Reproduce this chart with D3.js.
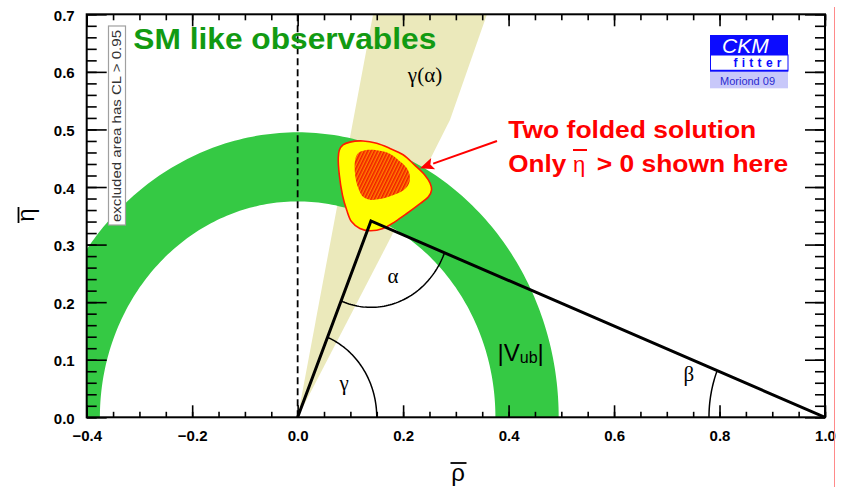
<!DOCTYPE html>
<html><head><meta charset="utf-8">
<script src="https://cdn.jsdelivr.net/npm/d3@7"></script>
<style>
html,body{margin:0;padding:0;background:#fff;}
svg{display:block;}
</style></head>
<body>
<svg id="chart" width="842" height="487"></svg>
<script>
// Unitarity triangle fit in the (rho-bar, eta-bar) plane

// ---- axis ticks ----
const xMajorTicks = [-0.4, -0.2, 0.0, 0.2, 0.4, 0.6, 0.8, 1.0];
const xTickLabels = ["\u22120.4", "\u22120.2", "0.0", "0.2", "0.4", "0.6", "0.8", "1.0"];
const yMajorTicks = [0.0, 0.1, 0.2, 0.3, 0.4, 0.5, 0.6, 0.7];
const yTickLabels = ["0.0", "0.1", "0.2", "0.3", "0.4", "0.5", "0.6", "0.7"];
const xMinorStep = 0.05;
const yMinorStep = 0.02;

// ---- constraints ----
// |Vub| ring: inner and outer radius around the origin
const vubRadii = [0.375, 0.495];
// gamma(alpha) band: left and right boundaries, from the origin upwards
const gammaAlphaLeft = [[0.0, 0.0], [0.143, 0.70]];
const gammaAlphaRight = [[0.0, 0.0], [0.177, 0.313], [0.289, 0.517], [0.359, 0.70]];

// ---- global fit ----
const triangleVertices = [[0.0, 0.0], [0.139, 0.341], [1.0, 0.0]];
const contourCL95 = [
  [0.079, 0.464], [0.086, 0.473], [0.099, 0.478], [0.124, 0.480], [0.150, 0.476],
  [0.175, 0.467], [0.200, 0.456], [0.222, 0.438], [0.241, 0.421], [0.251, 0.407],
  [0.254, 0.395], [0.248, 0.383], [0.229, 0.369], [0.207, 0.354], [0.185, 0.340],
  [0.162, 0.328], [0.137, 0.324], [0.118, 0.328], [0.102, 0.340], [0.093, 0.360],
  [0.085, 0.386], [0.079, 0.421], [0.077, 0.450]
];
const contourCL68 = [
  [0.109, 0.447], [0.115, 0.459], [0.128, 0.464], [0.150, 0.464], [0.172, 0.459],
  [0.191, 0.447], [0.207, 0.433], [0.213, 0.418], [0.210, 0.404], [0.197, 0.392],
  [0.178, 0.385], [0.156, 0.379], [0.137, 0.378], [0.124, 0.383], [0.115, 0.398],
  [0.109, 0.421]
];
// angle markers: radius of each arc around its vertex
const angleArcRadii = { gamma: 0.15, alpha: 0.15, beta: 0.22 };

// ---- layout ----
const frame = { left: 86.7, right: 825, top: 14.3, bottom: 417.3 };
const svg = d3.select("#chart");
const x = d3.scaleLinear().domain([-0.4, 1.0]).range([frame.left, frame.right]);
const y = d3.scaleLinear().domain([0.0, 0.7]).range([frame.bottom, frame.top]);

svg.append("rect").attr("width", 842).attr("height", 487).attr("fill", "#fff");

const defs = svg.append("defs");
defs.append("clipPath").attr("id", "plotClip")
  .append("rect")
  .attr("x", frame.left).attr("y", frame.top)
  .attr("width", frame.right - frame.left).attr("height", frame.bottom - frame.top);

const hatch = defs.append("pattern").attr("id", "hatch68")
  .attr("patternUnits", "userSpaceOnUse").attr("width", 3).attr("height", 6)
  .attr("patternTransform", "rotate(26)");
hatch.append("rect").attr("width", 3).attr("height", 6).attr("fill", "#ff8000");
hatch.append("line").attr("x1", 0.8).attr("x2", 0.8).attr("y1", 0).attr("y2", 6)
  .attr("stroke", "#f01800").attr("stroke-width", 1.5);

const plot = svg.append("g").attr("clip-path", "url(#plotClip)");
const line = d3.line().x(d => x(d[0])).y(d => y(d[1]));

// gamma(alpha) wedge
const wedge = gammaAlphaLeft.concat(gammaAlphaRight.slice().reverse());
plot.append("path").attr("d", line(wedge) + "Z").attr("fill", "#ebe9bb");

// |Vub| ring
function ringPoints(r0, r1) {
  const a = d3.range(0, 181).map(i => i * Math.PI / 180);
  const outer = a.map(t => [r1 * Math.cos(t), r1 * Math.sin(t)]);
  const inner = a.slice().reverse().map(t => [r0 * Math.cos(t), r0 * Math.sin(t)]);
  return outer.concat(inner);
}
plot.append("path").attr("d", line(ringPoints(vubRadii[0], vubRadii[1])) + "Z")
  .attr("fill", "#35c944");

// rho = 0 reference line
plot.append("line")
  .attr("x1", x(0)).attr("x2", x(0)).attr("y1", y(0)).attr("y2", y(0.7))
  .attr("stroke", "#000").attr("stroke-width", 1.8).attr("stroke-dasharray", "7,4");

// fit contours
const smooth = d3.line().x(d => x(d[0])).y(d => y(d[1])).curve(d3.curveCatmullRomClosed.alpha(0.5));
plot.append("path").attr("d", smooth(contourCL95))
  .attr("fill", "#ffff00").attr("stroke", "#ff1a00").attr("stroke-width", 1.6);
plot.append("path").attr("d", smooth(contourCL68))
  .attr("fill", "url(#hatch68)").attr("stroke", "none");

// unitarity triangle
const [A0, Apex, A1] = triangleVertices;
plot.append("path").attr("d", line(triangleVertices))
  .attr("fill", "none").attr("stroke", "#000").attr("stroke-width", 3)
  .attr("stroke-linejoin", "miter");

// angle arcs
function arc(center, r, t0, t1) {
  const n = 60;
  const pts = d3.range(n + 1).map(i => {
    const t = t0 + (t1 - t0) * i / n;
    return [center[0] + r * Math.cos(t), center[1] + r * Math.sin(t)];
  });
  return line(pts);
}
const angTo = (p, q) => Math.atan2(q[1] - p[1], q[0] - p[0]);
const arcStyle = sel => sel.attr("fill", "none").attr("stroke", "#000").attr("stroke-width", 1.5);
plot.append("path").attr("d", arc(A0, angleArcRadii.gamma, 0, angTo(A0, Apex))).call(arcStyle);
plot.append("path").attr("d", arc(Apex, angleArcRadii.alpha, angTo(Apex, A0), angTo(Apex, A1))).call(arcStyle);
plot.append("path").attr("d", arc(A1, angleArcRadii.beta, Math.PI, angTo(A1, Apex))).call(arcStyle);

// Greek labels
const greek = { "font-family": "'Liberation Serif', 'DejaVu Serif', serif", "font-size": "21px", fill: "#000" };
function label(txt, px, py, anchor) {
  const t = svg.append("text").attr("x", px).attr("y", py).attr("text-anchor", anchor || "middle").text(txt);
  Object.entries(greek).forEach(([k, v]) => t.attr(k, v));
  return t;
}
label("\u03b3", x(0.088), y(0.048));
label("\u03b1", x(0.181), y(0.233));
label("\u03b2", x(0.742), y(0.063));
label("\u03b3(\u03b1)", x(0.209), y(0.582), "start");

// |Vub| label
const vub = svg.append("text").attr("x", x(0.379)).attr("y", y(0.097))
  .attr("font-family", "'Liberation Sans', Arial, sans-serif").attr("font-size", "24px").attr("fill", "#000");
vub.append("tspan").text("|V");
vub.append("tspan").attr("font-size", "16px").attr("dy", 2).text("ub");
vub.append("tspan").attr("dy", -2).text("|");

// ---- axes ----
const axisFont = sel => sel.selectAll("text")
  .attr("font-family", "'Liberation Sans', Arial, sans-serif").attr("font-weight", "bold")
  .attr("font-size", "15px").attr("fill", "#000");
const axisStyle = sel => {
  sel.select(".domain").remove();
  sel.selectAll("line").attr("stroke", "#000").attr("stroke-width", 1.6);
};
const xMinor = d3.range(-0.4, 1.0001, xMinorStep).map(v => +v.toFixed(3));
const yMinor = d3.range(0, 0.7001, yMinorStep).map(v => +v.toFixed(3));
const xLabelOf = v => xTickLabels[xMajorTicks.findIndex(t => Math.abs(t - v) < 1e-9)];
const yLabelOf = v => yTickLabels[yMajorTicks.findIndex(t => Math.abs(t - v) < 1e-9)];

// bottom
svg.append("g").attr("transform", `translate(0,${frame.bottom})`)
  .call(d3.axisBottom(x).tickValues(xMinor).tickSize(-5.5).tickFormat("")).call(axisStyle);
svg.append("g").attr("transform", `translate(0,${frame.bottom})`)
  .call(d3.axisBottom(x).tickValues(xMajorTicks).tickSize(-12).tickPadding(13).tickFormat(xLabelOf))
  .call(axisStyle).call(axisFont);
// top
svg.append("g").attr("transform", `translate(0,${frame.top})`)
  .call(d3.axisTop(x).tickValues(xMinor).tickSize(-6).tickFormat("")).call(axisStyle);
svg.append("g").attr("transform", `translate(0,${frame.top})`)
  .call(d3.axisTop(x).tickValues(xMajorTicks).tickSize(-12).tickFormat("")).call(axisStyle);
// left
svg.append("g").attr("transform", `translate(${frame.left},0)`)
  .call(d3.axisLeft(y).tickValues(yMinor).tickSize(-10).tickFormat("")).call(axisStyle);
svg.append("g").attr("transform", `translate(${frame.left},0)`)
  .call(d3.axisLeft(y).tickValues(yMajorTicks).tickSize(-20).tickPadding(12).tickFormat(yLabelOf))
  .call(axisStyle).call(axisFont)
  .selectAll("text").attr("dy", "0.4em");
// right
svg.append("g").attr("transform", `translate(${frame.right},0)`)
  .call(d3.axisRight(y).tickValues(yMinor).tickSize(-10).tickFormat("")).call(axisStyle);
svg.append("g").attr("transform", `translate(${frame.right},0)`)
  .call(d3.axisRight(y).tickValues(yMajorTicks).tickSize(-20).tickFormat("")).call(axisStyle);

// frame
svg.append("rect")
  .attr("x", frame.left).attr("y", frame.top)
  .attr("width", frame.right - frame.left).attr("height", frame.bottom - frame.top)
  .attr("fill", "none").attr("stroke", "#000").attr("stroke-width", 2);

// axis titles with bars
const titleFont = "'Liberation Sans', Arial, sans-serif";
svg.append("text").attr("x", 458).attr("y", 481).attr("text-anchor", "middle")
  .attr("font-family", titleFont).attr("font-size", "24px").text("\u03c1");
svg.append("line").attr("x1", 450.5).attr("x2", 466.5).attr("y1", 463).attr("y2", 463)
  .attr("stroke", "#000").attr("stroke-width", 1.8);
svg.append("text").attr("transform", "translate(34,215) rotate(-90)").attr("text-anchor", "middle")
  .attr("font-family", titleFont).attr("font-size", "24px").text("\u03b7");
svg.append("line").attr("x1", 18.5).attr("x2", 18.5).attr("y1", 207).attr("y2", 223)
  .attr("stroke", "#000").attr("stroke-width", 1.8);

// excluded-area note
svg.append("rect").attr("x", 108.5).attr("y", 26).attr("width", 17).attr("height", 199)
  .attr("fill", "#fff").attr("stroke", "#a0a0a0").attr("stroke-width", 1.2);
svg.append("text").attr("transform", "translate(121,222) rotate(-90)")
  .attr("font-family", titleFont).attr("font-size", "13px").attr("fill", "#333")
  .attr("textLength", 192).attr("lengthAdjust", "spacingAndGlyphs")
  .text("excluded area has CL > 0.95");

// headline
svg.append("text").attr("x", 133.3).attr("y", 49.3)
  .attr("font-family", titleFont).attr("font-weight", "bold").attr("font-size", "30px")
  .attr("fill", "#129a12").attr("textLength", 303).attr("lengthAdjust", "spacingAndGlyphs")
  .text("SM like observables");

// CKMfitter logo
const logo = svg.append("g");
logo.append("rect").attr("x", 710).attr("y", 35).attr("width", 78).attr("height", 20).attr("fill", "#0c0cff");
logo.append("rect").attr("x", 710.5).attr("y", 55).attr("width", 77.5).attr("height", 16)
  .attr("fill", "#fff").attr("stroke", "#0c0cff").attr("stroke-width", 1);
logo.append("line").attr("x1", 710).attr("x2", 788).attr("y1", 70.8).attr("y2", 70.8)
  .attr("stroke", "#0c0cff").attr("stroke-width", 2);
logo.append("rect").attr("x", 710).attr("y", 71.8).attr("width", 78).attr("height", 16.5).attr("fill", "#c8c8fa");
logo.append("text").attr("x", 722).attr("y", 53).attr("font-family", titleFont)
  .attr("font-style", "italic").attr("font-size", "21px").attr("fill", "#fff").text("CKM");
logo.append("text").attr("x", 733.5).attr("y", 67).attr("font-family", titleFont)
  .attr("font-weight", "bold").attr("font-size", "12px").attr("fill", "#0c0cff")
  .attr("textLength", 48).text("fitter");
logo.append("text").attr("x", 720).attr("y", 84.5).attr("font-family", titleFont)
  .attr("font-size", "11px").attr("fill", "#2a2ad0").text("Moriond 09");

// annotation arrow
const tail = [0.378, 0.480], tip = [0.232, 0.4325];
const ang = Math.atan2(y(tip[1]) - y(tail[1]), x(tip[0]) - x(tail[0]));
const hl = 14, hw = 6;
const bx = x(tip[0]) - hl * Math.cos(ang), by = y(tip[1]) - hl * Math.sin(ang);
svg.append("line").attr("x1", x(tail[0])).attr("y1", y(tail[1])).attr("x2", bx).attr("y2", by)
  .attr("stroke", "#ff0000").attr("stroke-width", 2);
svg.append("path")
  .attr("d", `M${x(tip[0])},${y(tip[1])}L${bx - hw * Math.sin(ang)},${by + hw * Math.cos(ang)}L${bx + 3 * Math.cos(ang)},${by + 3 * Math.sin(ang)}L${bx + hw * Math.sin(ang)},${by - hw * Math.cos(ang)}Z`)
  .attr("fill", "#ff0000");

// annotation text
const red = sel => sel.attr("font-family", titleFont).attr("font-size", "24px").attr("fill", "#ff0000")
  .attr("lengthAdjust", "spacingAndGlyphs");
svg.append("text").attr("x", 508.3).attr("y", 138.3).attr("font-weight", "bold")
  .attr("textLength", 248).call(red).text("Two folded solution");
svg.append("text").attr("x", 508.3).attr("y", 171.7).attr("font-weight", "bold")
  .attr("textLength", 58).call(red).text("Only");
svg.append("text").attr("x", 573).attr("y", 171.7).call(red).attr("font-size", "22px").text("\u03b7");
svg.append("line").attr("x1", 573).attr("x2", 587).attr("y1", 150).attr("y2", 150)
  .attr("stroke", "#ff0000").attr("stroke-width", 2);
svg.append("text").attr("x", 596.7).attr("y", 171.7).attr("font-weight", "bold")
  .attr("textLength", 191.6).call(red).text("> 0 shown here");

// right margin line
svg.append("line").attr("x1", 834.5).attr("x2", 834.5).attr("y1", 7).attr("y2", 487)
  .attr("stroke", "#ff8a8a").attr("stroke-width", 1);
</script>
</body></html>
